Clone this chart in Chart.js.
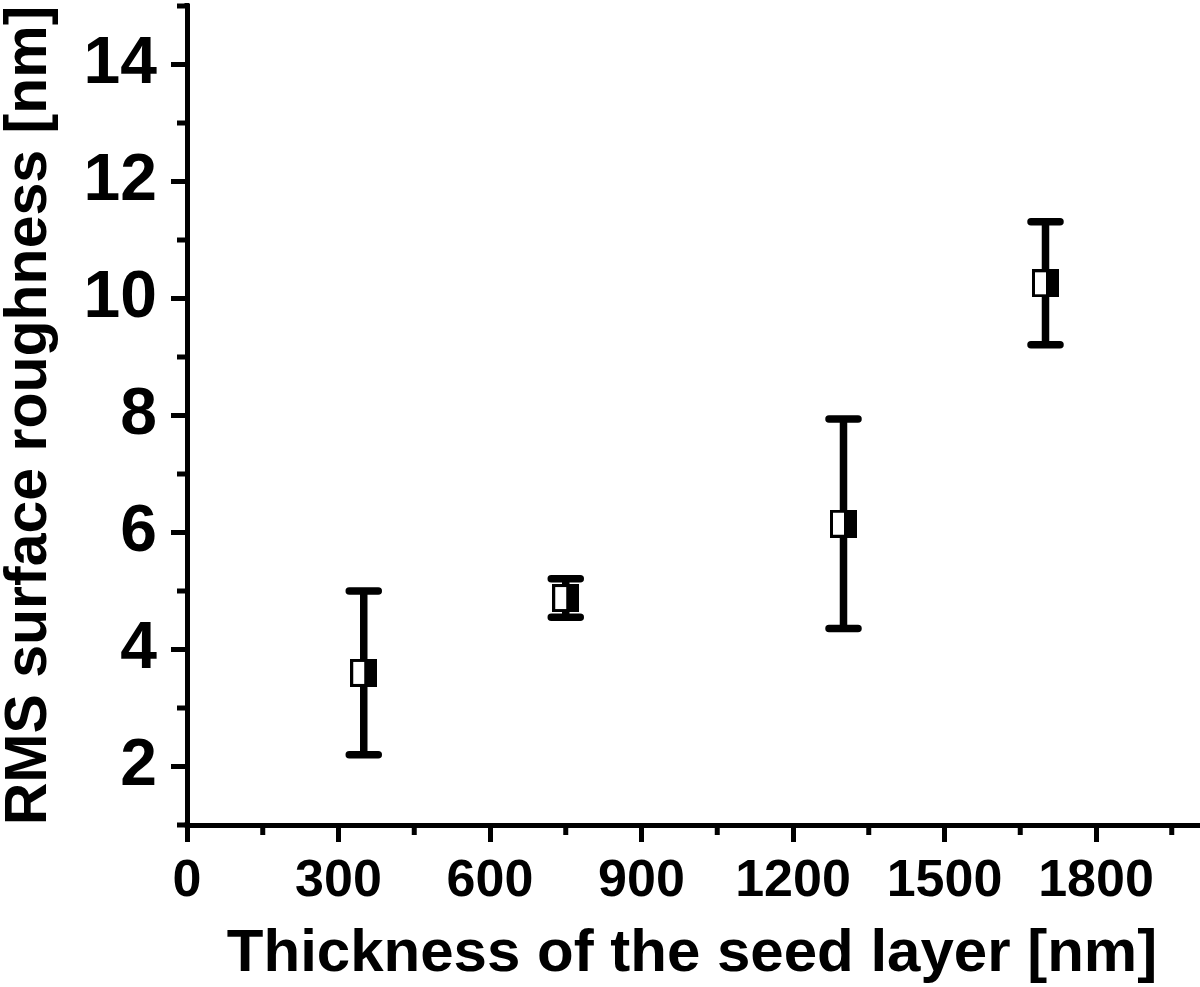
<!DOCTYPE html>
<html><head><meta charset="utf-8">
<script src="https://cdn.jsdelivr.net/npm/chart.js@4.4.1/dist/chart.umd.min.js"></script>
<style>html,body{margin:0;padding:0;background:#fff}#wrap{width:1200px;height:987px}</style>
</head><body><div id="wrap"><canvas id="c" width="1200" height="987"></canvas></div>
<script>
const thickness = [350, 750, 1300, 1700];
const roughness = [3.6, 4.88, 6.15, 10.26];
const roughnessErr = [1.4, 0.33, 1.79, 1.05];
const xTicks = [0, 300, 600, 900, 1200, 1500, 1800];
const yTicks = [2, 4, 6, 8, 10, 12, 14];
const xMinorTicks = [150, 450, 750, 1050, 1350, 1650, 1950];
const yMinorTicks = [1, 3, 5, 7, 9, 11, 13, 15];
const xTitle = 'Thickness of the seed layer [nm]';
const yTitle = 'RMS surface roughness [nm]';

const FAMILY = '"Liberation Sans", Arial, sans-serif';
Chart.defaults.font.family = FAMILY;
Chart.defaults.color = '#000';

// half-filled square marker
function makeMarker() {
  const w = 27, h = 28;
  const cv = document.createElement('canvas');
  cv.width = w; cv.height = h;
  const g = cv.getContext('2d');
  g.fillStyle = '#fff';
  g.fillRect(0, 0, w, h);
  g.fillStyle = '#000';
  g.fillRect(Math.round(w / 2), 0, w - Math.round(w / 2), h);
  g.strokeStyle = '#000';
  g.lineWidth = 3;
  g.strokeRect(1.5, 1.5, w - 3, h - 3);
  return cv;
}
const marker = makeMarker();

const errorBars = {
  id: 'errorBars',
  beforeDatasetsDraw(chart) {
    const {ctx, scales: {x, y}} = chart;
    ctx.save();
    ctx.strokeStyle = '#000';
    thickness.forEach((t, i) => {
      const px = x.getPixelForValue(t);
      const pHi = y.getPixelForValue(roughness[i] + roughnessErr[i]);
      const pLo = y.getPixelForValue(roughness[i] - roughnessErr[i]);
      ctx.lineWidth = 7.5;
      ctx.lineCap = 'butt';
      ctx.beginPath();
      ctx.moveTo(px, pHi); ctx.lineTo(px, pLo);
      ctx.stroke();
      ctx.lineCap = 'round';
      ctx.beginPath();
      ctx.moveTo(px - 14.5, pHi); ctx.lineTo(px + 14.5, pHi);
      ctx.moveTo(px - 14.5, pLo); ctx.lineTo(px + 14.5, pLo);
      ctx.stroke();
    });
    ctx.restore();
  }
};

const minorTicks = {
  id: 'minorTicks',
  afterDraw(chart) {
    const {ctx, chartArea: a, scales: {x, y}} = chart;
    ctx.save();
    ctx.strokeStyle = '#000';
    ctx.lineWidth = 5;
    ctx.lineCap = 'butt';
    ctx.beginPath();
    xMinorTicks.forEach(v => {
      const px = x.getPixelForValue(v);
      ctx.moveTo(px, a.bottom); ctx.lineTo(px, a.bottom + 10);
    });
    yMinorTicks.forEach(v => {
      const py = y.getPixelForValue(v);
      ctx.moveTo(a.left, py); ctx.lineTo(a.left - 10, py);
    });
    // axis line reaching slightly above the top tick
    ctx.moveTo(a.left, a.top); ctx.lineTo(a.left, a.top - 3);
    ctx.stroke();
    // close the axis corner
    ctx.fillStyle = '#000';
    ctx.fillRect(a.left - 2.5, a.bottom - 2.5, 5, 5);
    ctx.restore();
  }
};

new Chart(document.getElementById('c'), {
  type: 'scatter',
  data: {
    datasets: [{
      data: thickness.map((t, i) => ({x: t, y: roughness[i]})),
      pointStyle: marker,
      pointRadius: 14,
      pointHoverRadius: 14,
      showLine: false,
      clip: false
    }]
  },
  options: {
    responsive: false,
    animation: false,
    devicePixelRatio: 1,
    layout: {autoPadding: false, padding: {top: 6, right: 3, left: 0, bottom: 0}},
    plugins: {legend: {display: false}, tooltip: {enabled: false}},
    scales: {
      x: {
        type: 'linear', min: 0, max: 2000,
        afterBuildTicks: s => { s.ticks = xTicks.map(v => ({value: v})); },
        afterFit: s => { s.height = 987 - 825; s.paddingLeft = 0; s.paddingRight = 0; },
        border: {display: true, color: '#000', width: 5},
        grid: {drawOnChartArea: false, color: '#000', tickColor: '#000', tickLength: 17, lineWidth: 5, tickWidth: 5},
        ticks: {color: '#000', font: {size: 52, weight: 'bold', family: FAMILY}, padding: 8, maxRotation: 0, autoSkip: false,
                callback: v => String(v)},
        title: {display: true, text: xTitle, color: '#000', font: {size: 60, weight: 'bold', family: FAMILY, lineHeight: 1}, padding: {top: 0, bottom: 3}}
      },
      y: {
        type: 'linear', min: 1, max: 15,
        afterBuildTicks: s => { s.ticks = yTicks.map(v => ({value: v})); },
        afterFit: s => { s.width = 187; s.paddingTop = 0; s.paddingBottom = 0; },
        border: {display: true, color: '#000', width: 5},
        grid: {drawOnChartArea: false, color: '#000', tickColor: '#000', tickLength: 16, lineWidth: 5, tickWidth: 5},
        ticks: {color: '#000', font: {size: 66, weight: 'bold', family: FAMILY}, padding: 14, autoSkip: false,
                callback: v => String(v)},
        title: {display: true, text: yTitle, color: '#000', font: {size: 59, weight: 'bold', family: FAMILY, lineHeight: 1}, padding: {top: 0, bottom: 0}}
      }
    }
  },
  plugins: [errorBars, minorTicks]
});
</script>
</body></html>
